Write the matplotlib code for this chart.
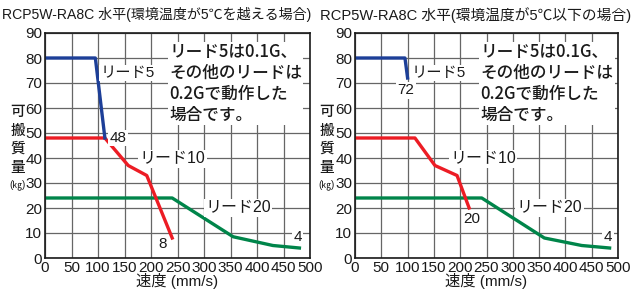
import matplotlib
matplotlib.use("Agg")
import matplotlib.pyplot as plt

plt.rcParams['font.family'] = ['Liberation Sans Narrow', 'Liberation Sans', 'Noto Sans CJK JP', 'DejaVu Sans']

titles = ['RCP5W-RA8C 水平(環境温度が5℃を越える場合)',
          'RCP5W-RA8C 水平(環境温度が5℃以下の場合)']

# left chart (above 5 deg C)
l5_x_a = [0, 95, 113]
l5_y_a = [80, 80, 48]
l10_x_a = [0, 113, 157, 192, 240]
l10_y_a = [48, 48, 37, 33, 8]
l20_x_a = [0, 240, 355, 430, 480]
l20_y_a = [24, 24, 8.5, 5, 4]

# right chart (5 deg C or below)
l5_x_b = [0, 95, 100]
l5_y_b = [80, 80, 72]
l10_x_b = [0, 114, 152, 194, 217]
l10_y_b = [48, 48, 37, 33, 20]
l20_x_b = [0, 241, 360, 431, 484]
l20_y_b = [24, 24, 8, 5, 4]

x_ticks = list(range(0, 501, 50))
y_ticks = list(range(0, 91, 10))

note = 'リード5は0.1G、\nその他のリードは\n0.2Gで動作した\n場合です。'
ylab_chars = ['可', '搬', '質', '量']

BLUE = '#1d3f98'
RED = '#ec1c24'
GREEN = '#00854a'
GRID = '#666666'
INK = '#1a1a1a'

W, H = 635, 298
fig = plt.figure(figsize=(W / 100, H / 100), dpi=100)
ax1 = fig.add_axes([45 / W, 1 - 258 / H, 265 / W, 225 / H])
ax2 = fig.add_axes([355 / W, 1 - 258 / H, 263 / W, 225 / H])

box = dict(facecolor='white', edgecolor='none', pad=1)


def setup(ax, ylab_x):
    ax.set_xlim(0, 500)
    ax.set_ylim(0, 90)
    ax.set_xticks(x_ticks)
    ax.set_yticks(y_ticks)
    ax.tick_params(length=0, labelsize=11, pad=2, colors=INK)
    ax.grid(True, color=GRID, linewidth=0.9)
    ax.set_axisbelow(True)
    for s in ax.spines.values():
        s.set_color(INK)
        s.set_linewidth(1.2)
    ax.set_xlabel('速度 (mm/s)', fontsize=11, labelpad=-1, color=INK)
    # vertical y label, one character per row
    for i, ch in enumerate(ylab_chars):
        fig.text(ylab_x / W, 1 - (112 + 18.5 * i) / H, ch, ha='center', va='center',
                 fontsize=10.5, fontweight='medium', color=INK)
    fig.text(ylab_x / W, 1 - 185 / H, '(㎏)', ha='center', va='center',
             fontsize=7, color=INK)


def fit_title(x_px, text, width_px):
    t = fig.text(x_px / W, 1 - 15 / H, text, ha='left', va='center', fontsize=11, color=INK)
    r = fig.canvas.get_renderer()
    w = t.get_window_extent(r).width
    t.set_fontsize(11 * width_px / w)


def add_note(ax, x):
    ax.text(x, 86, note, ha='left', va='top', fontsize=12, fontweight='medium',
            family=['Noto Sans CJK JP', 'DejaVu Sans'],
            linespacing=1.2, color=INK, bbox=box)


setup(ax1, 18)
setup(ax2, 327)
fit_title(2, titles[0], 310)
fit_title(320, titles[1], 310)

lw = 2.4
ax1.plot(l20_x_a, l20_y_a, color=GREEN, lw=lw)
ax1.plot(l10_x_a, l10_y_a, color=RED, lw=lw)
ax1.plot(l5_x_a, l5_y_a, color=BLUE, lw=lw)
add_note(ax1, 234)
ax1.text(105, 74, 'リード5', fontsize=11, va='center', ha='left', color=INK, bbox=box)
ax1.text(l5_x_a[-1] + 9, l5_y_a[-1], '48', fontsize=11, va='center', ha='left', color=INK, bbox=box)
ax1.text(240, 39.6, 'リード10', fontsize=11.5, va='center', ha='center', color=INK, bbox=box)
ax1.text(221, 5.6, '8', fontsize=11, va='center', ha='center', color=INK)
ax1.text(364, 20, 'リード20', fontsize=11.5, va='center', ha='center', color=INK, bbox=box)
ax1.text(477, 8.4, '4', fontsize=11, va='center', ha='center', color=INK, bbox=box)

ax2.plot(l20_x_b, l20_y_b, color=GREEN, lw=lw)
ax2.plot(l10_x_b, l10_y_b, color=RED, lw=lw)
ax2.plot(l5_x_b, l5_y_b, color=BLUE, lw=lw)
add_note(ax2, 239)
ax2.text(108, 74, 'リード5', fontsize=11, va='center', ha='left', color=INK, bbox=box)
ax2.text(97, 67, '72', fontsize=11, va='center', ha='center', color=INK, bbox=box)
ax2.text(243, 39.6, 'リード10', fontsize=11.5, va='center', ha='center', color=INK, bbox=box)
ax2.text(222, 15.6, '20', fontsize=11, va='center', ha='center', color=INK, bbox=box)
ax2.text(370, 20, 'リード20', fontsize=11.5, va='center', ha='center', color=INK, bbox=box)
ax2.text(481, 8.4, '4', fontsize=11, va='center', ha='center', color=INK, bbox=box)

fig.savefig('out.png', dpi=100, facecolor='white')
